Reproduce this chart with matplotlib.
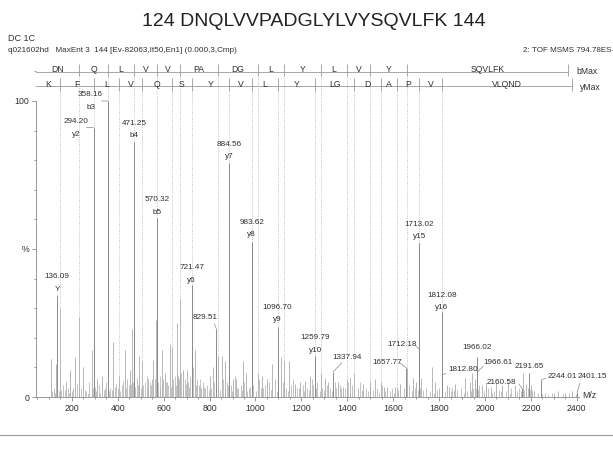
import matplotlib
matplotlib.use("Agg")
import matplotlib.pyplot as plt
from matplotlib.lines import Line2D
from matplotlib.ticker import MultipleLocator, FixedLocator

plt.rcParams['font.family'] = ['Liberation Sans', 'DejaVu Sans']

# labelled peaks (m/z, % intensity, ion name)
peak_mz = [136.09, 294.20, 358.16, 471.25, 570.32, 721.47, 829.51, 884.56,
           983.62, 1096.70, 1259.79, 1337.94, 1657.77, 1712.18, 1713.02,
           1812.08, 1812.80, 1966.02, 1966.61, 2160.58, 2191.65, 2244.01, 2401.15]
peak_int = [34.5, 91, 100, 86, 60.5, 38, 23, 79,
            52.5, 23.5, 14, 8.5, 9.8, 16.2, 52,
            28.7, 7.4, 13.5, 8.4, 3, 8, 5.7, 1.7]
peak_ion = ['Y', 'y2', 'b3', 'b4', 'b5', 'y6', '', 'y7',
            'y8', 'y9', 'y10', '', '', '', 'y15',
            'y16', '', '', '', '', '', '', '']

# b / y ladder (sequence 124-144)
b_mz = [230.08, 358.16, 471.25, 570.32, 669.36, 837.45, 1009.50, 1122.58,
        1285.65, 1398.73, 1497.80, 1660.86, 2363.26]
b_int = [27, 100, 86, 60.5, 33, 14, 8, 12, 8, 6, 5, 9.8, None]
b_res = ['DN', 'Q', 'L', 'V', 'V', 'PA', 'DG', 'L', 'Y', 'L', 'V', 'Y', 'SQVLFK']

y_mz = [147.11, 294.20, 407.26, 506.33, 634.39, 721.47, 884.56, 983.62,
        1096.70, 1259.79, 1429.80, 1544.83, 1615.87, 1713.02, 1812.08, 2381.27]
y_int = [30, 91, 7, 12, 17, 38, 79, 52.5, 23.5, 14, 8, 5, 3.5, 52, 28.7, None]
y_res = ['K', 'F', 'L', 'V', 'Q', 'S', 'Y', 'V', 'L', 'Y', 'LG', 'D', 'A', 'P', 'V', 'VLQND']

# unlabelled background peaks
noise_mz = [108, 131, 174, 192, 213, 250, 286, 311, 330, 380, 431, 453, 460, 493,
            533, 555, 566, 591, 605, 627, 657, 663, 686, 700, 736, 763, 802, 813,
            853, 867, 903, 915, 944, 960, 1030, 1049, 1073, 1111, 1146, 1170, 1195,
            1215, 1237, 1303, 1318, 1360, 1380, 1412, 1470, 1520, 1560, 1575, 1610,
            1630, 1688, 1700, 1720, 1768, 1780, 1835, 1845, 1870, 1913, 1935, 1942,
            1955, 1985, 2005, 2025, 2050, 2075, 2100, 2130, 2164, 2180, 2200, 2215,
            2260, 2300, 2320, 2350, 2380, 2420]
noise_int = [13, 11, 5, 9, 13.6, 10, 16, 6, 7, 18.7, 16, 9, 23, 14,
             6, 12.5, 26, 16, 8, 18, 25, 7, 9, 9, 16, 3, 7, 10,
             14, 12, 6, 6, 12, 8, 7, 6, 11, 13.6, 12, 4.5, 5,
             5.5, 7, 6.5, 5, 5, 3.5, 6.5, 4.5, 6, 3.5, 3.5, 3.5,
             4.5, 6.5, 5, 6.5, 10, 5, 4, 3.5, 4.5, 6.5, 5, 8,
             6, 4, 5, 3.5, 5, 4, 5, 4, 8, 4.5, 4, 2,
             1.5, 1.5, 2, 1.5, 2, 1]
grass_mz = [120, 142, 160, 168, 182, 200, 222, 240, 262, 275, 300, 318, 338, 350,
            368, 392, 402, 424, 440, 447, 466, 482, 494, 512, 526, 540, 548, 575,
            582, 598, 612, 620, 648, 668, 675, 692, 708, 715, 728, 745, 752, 770,
            782, 790, 820, 838, 860, 875, 892, 910, 925, 935, 952, 970, 990, 1015,
            1022, 1040, 1058, 1085, 1100, 1118, 1135, 1155, 1163, 1180, 1205, 1225,
            1245, 1252, 1268, 1290, 1310, 1325, 1345, 1352, 1368, 1390, 1405, 1420,
            1445, 1455, 1480, 1500, 1510, 1530, 1550, 1585, 1595, 1620, 1645, 1670,
            1680, 1695, 1730, 1745, 1760, 1790, 1800, 1825, 1858, 1880, 1895, 1920,
            1948, 1975, 1995, 2015, 2040, 2060, 2090, 2115, 2140, 2150, 2172, 2188,
            2205, 2230, 2275, 2290, 2340, 2365, 2395,
            114, 126, 152, 188, 206, 230, 256, 268, 292, 306, 324, 344, 362, 374,
            386, 410, 418, 436, 456, 476, 488, 502, 518, 530, 544, 560, 586, 594,
            616, 632, 640, 652, 662, 682, 698, 712, 724, 740, 758, 776, 796, 808,
            826, 846, 866, 882, 898, 918, 940, 964, 978, 1002, 1034, 1066, 1092,
            1124, 1142, 1172, 1188, 1212, 1232, 1262, 1282, 1298, 1334, 1374, 1398,
            1428, 1462, 1492, 1540, 1566, 1604, 1656, 1706, 1716, 1776, 1850, 1866,
            1908, 1938, 1962, 1970, 2032, 2070, 2108, 2158, 2196, 2250]
grass_int = [3, 2, 4, 2.5, 3, 2, 4.5, 3, 2, 5, 3.5, 4, 2.5, 5,
             3, 4.5, 3, 5.5, 6, 4, 5, 6.5, 5, 4, 7, 5, 6, 5,
             7, 6, 5, 4, 7, 6, 8, 6, 5, 7, 10, 6, 4, 5,
             3, 4, 5, 4, 6, 5, 4, 7, 3, 4, 5, 3, 4, 6,
             3, 4, 5, 6, 4, 5, 3, 4, 6, 3, 4, 3,
             6, 4, 5, 3, 4, 3, 5, 3, 4, 3, 5, 4,
             3, 5, 3, 4, 2.5, 3, 4, 2, 3, 2.5, 3, 4,
             2.5, 3, 2.5, 3, 2, 2.5, 3, 2, 3, 2.5, 3, 2,
             3, 4, 2, 3, 2, 2.5, 2, 3, 2, 3, 2.5, 3,
             2.5, 1.5, 1, 1.5, 1, 1.5, 1,
             2, 1.5, 2.5, 1.5, 3, 2, 2.5, 1.5, 3, 2, 1.5, 3, 2, 2.5,
             3.5, 2, 4, 3, 4.5, 3.5, 4, 3, 5, 3.5, 4, 6, 3, 4.5,
             5, 3.5, 6, 4, 5, 3, 4.5, 3.5, 5, 4, 6, 3.5, 2.5, 3,
             3.5, 2.5, 3, 4, 2, 3, 2.5, 2, 3.5, 2, 3, 2.5, 2,
             3, 2, 2.5, 3, 2, 2.5, 3, 2, 2.5, 2, 3, 2.5,
             2, 2.5, 2, 1.5, 2, 1.5, 2, 2.5, 3, 1.5, 2, 2.5,
             1.5, 2, 3, 2.5, 1.5, 2, 1.5, 2, 2.5, 1]

# label placement: number centre offset from peak top (px), leader start (px)
label_off = [(0, -18), (-17.5, -6), (-17.5, -6), (0, -19), (0, -18), (0, -17),
             (-11, -11), (0, -19), (0, -19.5), (0, -20), (0, -18), (14, -14),
             (-19.5, -5), (-17, -5), (0, -19), (0, -17), (21, -6), (0, -10),
             (21, -10), (-20, -6), (0, -7), (21, -4), (15, -15)]
leader = [None, (-7, 0), (-7, 0), None, None, None,
          (-2, -5), None, None, None, None, (8.7, -9),
          (-6.5, -5), (-4, -4), None, None, (4, -2), None,
          (6, -6), (-3, -4), None, (5, -2), (3, -9)]

W, H = 613, 465
PX = 0.72  # points per pixel at dpi 100
fig = plt.figure(figsize=(W / 100, H / 100), dpi=100)
ax = fig.add_axes([36 / W, 1 - 397 / H, 543 / W, 337 / H])
ax.set_xlim(43.6, 2409.6)
ax.set_ylim(0, 113.85)

grey = '#8a8a8a'
light = '#ababab'
dot = '#b8b8b8'
txt = '#303030'

# spectrum
ax.vlines(grass_mz, 0, grass_int, color=light, lw=0.5)
ax.vlines(noise_mz, 0, noise_int, color=light, lw=0.6)
ion_mz = [m for m, v in zip(b_mz + y_mz, b_int + y_int) if v is not None]
ion_int = [v for v in b_int + y_int if v is not None]
ax.vlines(ion_mz, 0, ion_int, color=light, lw=0.6)
ax.vlines(peak_mz, 0, peak_int, color=grey, lw=0.7)

# dotted ion lines
ax.vlines([m for m, v in zip(b_mz, b_int) if v is not None], [v for v in b_int if v is not None],
          108.4, color=dot, lw=0.6, linestyles=(0, (1.2, 1.6)))
ax.vlines([m for m, v in zip(y_mz, y_int) if v is not None], [v for v in y_int if v is not None],
          103.4, color=dot, lw=0.6, linestyles=(0, (1.2, 1.6)))

# ladders
left = ax.get_xlim()[0]
ax.plot([left, b_mz[-1]], [109.7, 109.7], color='#999999', lw=0.6, clip_on=False)
ax.vlines(b_mz, 108.4, 112.5, color='#999999', lw=0.6, clip_on=False)
edges = [left] + b_mz
for i, r in enumerate(b_res):
    ax.text((edges[i] + edges[i + 1]) / 2, 110.5, r, ha='center', va='center',
            fontsize=6.2, color=txt)
ax.plot([left, y_mz[-1]], [105.2, 105.2], color='#999999', lw=0.6, clip_on=False)
ax.vlines(y_mz, 103.4, 107.8, color='#999999', lw=0.6, clip_on=False)
edges = [left] + y_mz
for i, r in enumerate(y_res):
    ax.text((edges[i] + edges[i + 1]) / 2, 105.7, r, ha='center', va='center',
            fontsize=6.2, color=txt)
ax.text(2444, 109.9, 'bMax', ha='center', va='center', fontsize=6.2, color=txt, clip_on=False)
ax.text(2457, 104.6, 'yMax', ha='center', va='center', fontsize=6.2, color=txt, clip_on=False)

# peak labels
for m, v, ion, (dx, dy), ld in zip(peak_mz, peak_int, peak_ion, label_off, leader):
    ax.annotate(f'{m:.2f}', xy=(m, v), xytext=(dx * PX, -dy * PX),
                textcoords='offset points', ha='center', va='center',
                fontsize=5.9, color=txt)
    if ion:
        ax.annotate(ion, xy=(m, v), xytext=(dx * PX, -(dy + 12.5) * PX),
                    textcoords='offset points', ha='center', va='center',
                    fontsize=5.9, color=txt)
    if ld:
        ax.annotate('', xy=(m, v), xytext=(ld[0] * PX, -ld[1] * PX),
                    textcoords='offset points',
                    arrowprops=dict(arrowstyle='-', color=grey, lw=0.5,
                                    shrinkA=0, shrinkB=0))

# axes
for s in ['top', 'right']:
    ax.spines[s].set_visible(False)
ax.spines['left'].set_bounds(0, 100)
ax.spines['left'].set_color('#888888')
ax.spines['bottom'].set_color('#888888')
ax.spines['left'].set_linewidth(0.6)
ax.spines['bottom'].set_linewidth(0.6)
ax.xaxis.set_major_locator(FixedLocator(range(200, 2401, 200)))
ax.xaxis.set_minor_locator(MultipleLocator(50))
ax.set_yticks([0, 50, 100])
ax.set_yticklabels(['0', '%', '100'])
ax.yaxis.set_minor_locator(MultipleLocator(10))
ax.tick_params(which='both', direction='out', color='#888888', width=0.6,
               labelsize=6.3, labelcolor=txt)
ax.tick_params(which='major', length=3, pad=2)
ax.tick_params(which='minor', length=1.5)
ax.annotate('M/z', xy=(1, 0), xycoords='axes fraction', xytext=(2, 1),
            textcoords='offset points', ha='left', va='center', fontsize=6.3, color=txt)

# header texts
fig.text(0.5 + 7 / W, 1 - 21 / H, '124 DNQLVVPADGLYLVYSQVLFK 144', ha='center',
         va='center', fontsize=14, color='#222222')
fig.text(8 / W, 1 - 38 / H, 'DC 1C', ha='left', va='center', fontsize=6.5, color=txt)
fig.text(8 / W, 1 - 50 / H, 'q021602hd   MaxEnt 3  144 [Ev-82063,It50,En1] (0.000,3,Cmp)',
         ha='left', va='center', fontsize=5.9, color=txt)
fig.text(614 / W, 1 - 50 / H, '2: TOF MSMS 794.78ES-', ha='right', va='center',
         fontsize=5.8, color=txt)
fig.add_artist(Line2D([0, 1], [1 - 435 / H] * 2, color='#9a9a9a', lw=0.8))

fig.savefig('out.png', dpi=100)
